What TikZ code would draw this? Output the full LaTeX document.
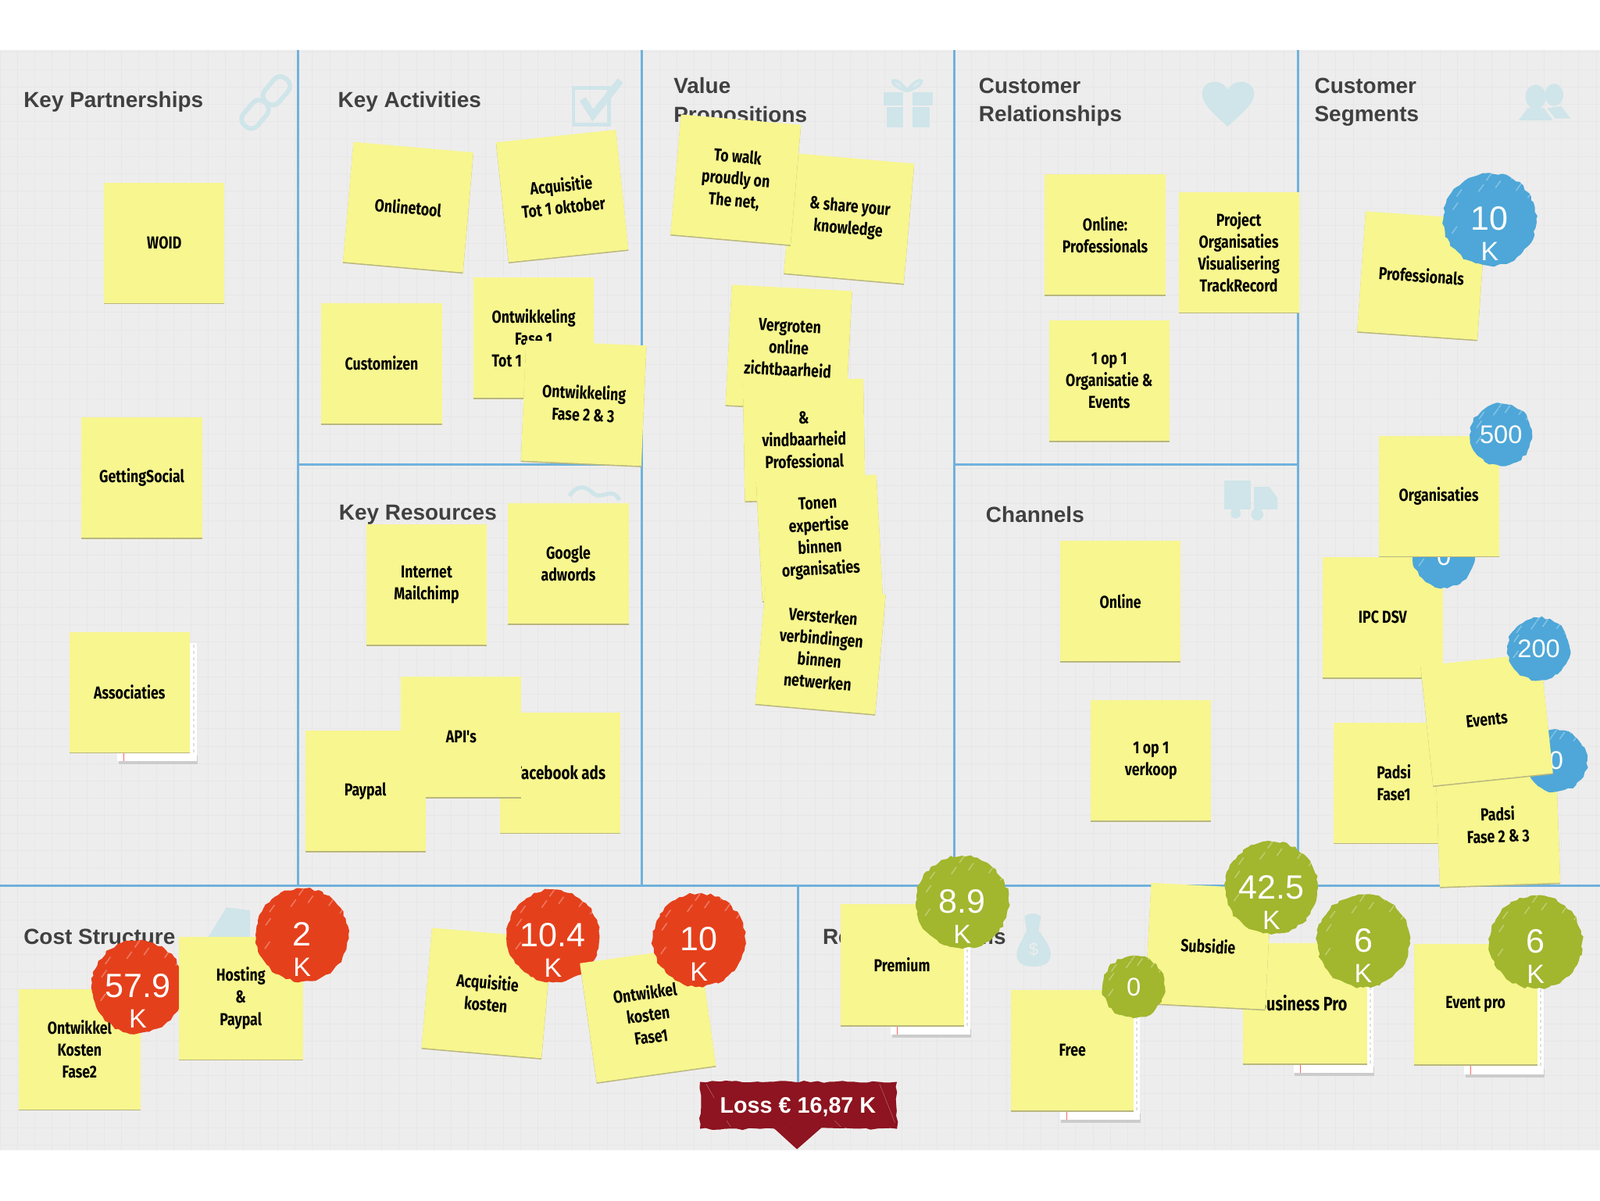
\documentclass[tikz,border=0pt]{standalone}
\usepackage{fontspec}
\usetikzlibrary{shadows,decorations.pathmorphing,calc}
\setmainfont{Liberation Sans}
\newfontfamily\notefont[FakeStretch=0.8]{Fira Sans}
\definecolor{boardbg}{HTML}{EEEDED}
\definecolor{boardgrid}{HTML}{E8E7E7}
\definecolor{boardline}{HTML}{70B2DC}
\definecolor{noteyellow}{HTML}{F7F68F}
\definecolor{noteedge}{HTML}{B9B77E}
\definecolor{iconblue}{HTML}{CFE5E9}
\definecolor{headgray}{HTML}{404040}
\definecolor{badgered}{HTML}{E5401C}
\definecolor{badgegreen}{HTML}{A2B62E}
\definecolor{badgeblue}{HTML}{4EA7D8}
\definecolor{lossred}{HTML}{8D1420}

% notepad sheet under a note: right and bottom edge of the note
\newcommand\padsheet[2]{
  \fill[gray!40] (#1-71,#2+3) rectangle (#1+7,#2+12);
  \fill[white] (#1-72,#2-107) rectangle (#1+6,#2+9);
  \draw[gray!25, line width=1.5pt, dash pattern=on 3pt off 3pt] (#1+3,#2-105) -- (#1+3,#2+2);
  \draw[red!60] (#1-66,#2) -- (#1-66,#2+9);
}
% the K under a badge number
\newcommand\kilo{\\[1pt]\fontsize{26}{26}\selectfont K}

\begin{document}
\begin{tikzpicture}[
  x=1pt, y=-1pt,
  font=\fontsize{21}{28}\selectfont,
  board/.style={boardline, line width=2.4pt},
  icon/.style={iconblue, line width=4.5pt},
  heading/.style={anchor=west, align=left, text=headgray, font=\fontsize{21.4}{28}\selectfont\bfseries, inner sep=0},
  note/.style={rectangle, minimum size=118, inner sep=0, fill=noteyellow, align=center, text=black,
    font=\notefont\bfseries\fontsize{17}{21.5}\selectfont,
    drop shadow={shadow xshift=0pt, shadow yshift=-1.2pt, fill=noteedge, opacity=1}},
  badge/.style={circle, inner sep=0, fill=#1, align=center, text=white,
    font=\fontsize{25}{28}\selectfont,
    decorate, decoration={random steps, segment length=4pt, amplitude=1.3pt},
    path picture={
      \foreach \a/\f in {30/.80,48/.62,62/.86,80/.68,95/.84,112/.60,128/.82,145/.70,165/.78,200/.80}{
        \draw[white, opacity=.3, line width=1.2pt]
          ($(path picture bounding box.center)!\f!(path picture bounding box.\a)$) -- +(5,-7);
      }
    }},
  smallbadge/.style={badge=#1, minimum size=61},
  bigbadge/.style={badge=#1, minimum size=91},
  biglabel/.style={align=center, text=white, inner sep=0, yshift=-14pt, font=\fontsize{33}{29}\selectfont}
]
  % board
  \useasboundingbox (0,0) rectangle (1568,1176);
  \fill[white] (0,0) rectangle (1568,1176);
  \fill[boardbg] (0,49) rectangle (1568,1127);
  \draw[boardgrid, step=17pt, thin] (0,49) grid (1568,1127);

  % cell borders
  \draw[board] (292,49) -- (292,868);
  \draw[board] (629,49) -- (629,868);
  \draw[board] (935,49) -- (935,868);
  \draw[board] (1272,49) -- (1272,868);
  \draw[board] (292,455) -- (629,455);
  \draw[board] (935,455) -- (1272,455);
  \draw[board] (0,868) -- (1568,868);
  \draw[board] (782,868) -- (782,1080);

  % icons
  \draw[icon, rounded corners=8pt, rotate around={50:(250,112)}] (235,103) rectangle (265,121);
  \draw[icon, rounded corners=8pt, rotate around={50:(271,89)}] (256,80) rectangle (286,98);
  \draw[icon, line width=3.5pt] (562,86) rectangle (597,122);
  \draw[icon, line width=7pt] (571,97) -- (581,113) -- (608,79);
  \fill[iconblue] (866,90) rectangle (914,103);
  \fill[iconblue] (869,105) rectangle (911,125);
  \fill[boardbg] (885,90) rectangle (894,125);
  \draw[icon, line width=3pt] (889,89) .. controls (875,70) and (866,82) .. (889,89) .. controls (912,82) and (903,70) .. (889,89);
  \fill[iconblue] (1203,124) .. controls (1190,112) and (1178,102) .. (1178,92)
    .. controls (1178,78) and (1197,76) .. (1203,88)
    .. controls (1209,76) and (1229,78) .. (1229,92)
    .. controls (1229,102) and (1216,112) .. (1203,124) -- cycle;
  \fill[iconblue] (1505,95) circle[x radius=10, y radius=12];
  \fill[iconblue] (1523,93) circle[x radius=9, y radius=11];
  \fill[iconblue] (1488,118) -- (1497,106) -- (1513,106) -- (1522,118) -- cycle;
  \fill[iconblue] (1516,106) -- (1530,104) -- (1539,116) -- (1524,116) -- cycle;
  \draw[icon, line width=4pt] (558,486) .. controls (566,474) and (574,476) .. (582,484) .. controls (590,490) and (600,476) .. (607,490);
  \fill[iconblue] (1200,471) rectangle (1226,499);
  \fill[iconblue] (1229,477) -- (1244,477) -- (1252,488) -- (1252,499) -- (1229,499) -- cycle;
  \fill[iconblue] (1232,504) circle(6);
  \fill[iconblue] (1211,503) circle(5);
  \fill[iconblue] (203,920) -- (222,889) -- (245,892) -- (245,920) -- cycle;
  \fill[iconblue] (1013,947) .. controls (994,947) and (993,935) .. (1001,922)
    -- (1006,912) -- (1004,898) .. controls (1008,894) and (1016,894) .. (1020,898)
    -- (1018,912) -- (1025,922) .. controls (1033,935) and (1032,947) .. (1013,947) -- cycle;
  \node[text=boardbg, inner sep=0, font=\fontsize{17}{17}\selectfont] (dollar) at (1013,930) {\$};

  % headings
  \node[heading] (partnerships) at (23,100) {Key Partnerships};
  \node[heading] (activities) at (331,100) {Key Activities};
  \node[heading] (propositions) at (660,100) {Value\\Propositions};
  \node[heading] (relationships) at (959,100) {Customer\\Relationships};
  \node[heading] (segments) at (1288,100) {Customer\\Segments};
  \node[heading] (resources) at (332,504) {Key Resources};
  \node[heading] (channels) at (966,504) {Channels};
  \node[heading] (cost) at (23,918) {Cost Structure};
  \node[heading] (revenue) at (806,918) {Revenue Streams};

  % key partnerships
  \node[note] (woid) at (161,238) {WOID};
  \node[note] (social) at (139,468) {GettingSocial};
  \padsheet{187}{737}
  \node[note] (associaties) at (127,678) {Associaties};

  % key activities
  \node[note, rotate=-5] (onlinetool) at (400,203) {Onlinetool};
  \node[note, rotate=6] (acquisitie) at (551,192) {Acquisitie\\Tot 1 oktober};
  \node[note] (customizen) at (374,356) {Customizen};
  \node[note] (faseone) at (523,331) {Ontwikkeling\\Fase 1\\Tot 1 oktober};
  \node[note, rotate=-2.5] (fasetwo) at (572,395) {Ontwikkeling\\Fase 2 \& 3};

  % key resources
  \node[note] (mailchimp) at (418,573) {Internet\\Mailchimp};
  \node[note] (adwords) at (557,552) {Google\\adwords};
  \node[note] (facebook) at (549,757) {\fontsize{18}{22}\selectfont Facebook ads};
  \node[note] (apis) at (452,722) {API's};
  \node[note] (paypal) at (358,775) {Paypal};

  % value propositions
  \node[note, rotate=-5] (share) at (832,214) {\& share your\\knowledge};
  \node[note, rotate=-5] (walk) at (721,176) {To walk\\proudly on\\The net,};
  \node[note, rotate=-3] (vergroten) at (773,341) {Vergroten\\online\\zichtbaarheid};
  \node[note, rotate=1] (vindbaar) at (788,431) {\&\\vindbaarheid\\Professional};
  \node[note, rotate=3] (tonen) at (803,527) {Tonen\\expertise\\binnen\\organisaties};
  \node[note, rotate=-5] (versterken) at (804,636) {Versterken\\verbindingen\\binnen\\netwerken};

  % customer relationships
  \node[note] (onlineprof) at (1083,230) {Online:\\Professionals};
  \node[note] (project) at (1214,247) {Project\\Organisaties\\Visualisering\\TrackRecord};
  \node[note] (oneorg) at (1087,373) {1 op 1\\Organisatie \&\\Events};

  % channels
  \node[note] (online) at (1098,589) {Online};
  \node[note] (verkoop) at (1128,745) {1 op 1\\verkoop};

  % customer segments
  \node[note, rotate=-4] (professionals) at (1393,270) {Professionals};
  \node[bigbadge=badgeblue, label={[biglabel, name=bten text]center:{10\kilo}}] (bten) at (1460,215) {};
  \node[note] (ipc) at (1355,605) {IPC DSV};
  \node[smallbadge=badgeblue] (bipc) at (1415,545) {0};
  \node[note] (organisaties) at (1410,486) {Organisaties};
  \node[smallbadge=badgeblue] (bfive) at (1471,426) {500};
  \node[note] (padsione) at (1366,767) {Padsi\\Fase1};
  \node[note, rotate=2] (padsitwo) at (1468,808) {Padsi\\Fase 2 \& 3};
  \node[smallbadge=badgeblue] (bpadsi) at (1525,745) {0};
  \node[note, rotate=6] (events) at (1457,705) {Events};
  \node[smallbadge=badgeblue] (btwo) at (1508,636) {200};

  % cost structure
  \node[note, minimum width=120] (kostentwo) at (78,1028) {Ontwikkel\\Kosten\\Fase2};
  \node[bigbadge=badgered, label={[biglabel, name=bkostentwo text]center:{57.9\kilo}}] (bkostentwo) at (135,967) {};
  \node[note, minimum width=122, minimum height=120] (hosting) at (236,978) {Hosting\\\&\\Paypal};
  \node[bigbadge=badgered, label={[biglabel, name=bhosting text]center:{2\kilo}}] (bhosting) at (296,916) {};
  \node[note, rotate=-5] (acqkosten) at (477,973) {Acquisitie\\kosten};
  \node[bigbadge=badgered, label={[biglabel, name=bacq text]center:{10.4\kilo}}] (bacq) at (542,917) {};
  \node[note, rotate=8] (kostenone) at (635,994) {Ontwikkel\\kosten\\Fase1};
  \node[bigbadge=badgered, label={[biglabel, name=bkostenone text]center:{10\kilo}}] (bkostenone) at (685,921) {};

  % revenue streams
  \padsheet{945}{1005}
  \node[note, minimum width=121, minimum height=119] (premium) at (884,945) {Premium};
  \node[bigbadge=badgegreen, label={[biglabel, name=bpremium text]center:{8.9\kilo}}] (bpremium) at (943,884) {};
  \padsheet{1340}{1042}
  \node[note, minimum width=122] (business) at (1279,983) {\fontsize{19}{22}\selectfont\hspace*{-6pt}Business Pro};
  \node[note, rotate=-3] (subsidie) at (1184,927) {Subsidie};
  \padsheet{1111}{1088}
  \node[note, minimum width=120] (free) at (1051,1029) {Free};
  \node[smallbadge=badgegreen] (bfree) at (1111,967) {0};
  \node[bigbadge=badgegreen, label={[biglabel, name=bsubsidie text]center:{42.5\kilo}}] (bsubsidie) at (1246,870) {};
  \node[bigbadge=badgegreen, label={[biglabel, name=bbusiness text]center:{6\kilo}}] (bbusiness) at (1336,922) {};
  \padsheet{1507}{1044}
  \node[note, minimum width=121] (eventpro) at (1446,984) {Event pro};
  \node[bigbadge=badgegreen, label={[biglabel, name=beventpro text]center:{6\kilo}}] (beventpro) at (1505,923) {};

  % loss flag
  \fill[lossred, decorate, decoration={random steps, segment length=6pt, amplitude=1.2pt}]
    (686,1060) rectangle (879,1106);
  \fill[lossred] (758,1105) -- (805,1105) -- (781,1126) -- cycle;
  \draw[white, opacity=.35, thin] (692,1062) -- (700,1076);
  \draw[white, opacity=.35, thin] (862,1062) -- (877,1100);
  \draw[white, opacity=.35, thin] (712,1098) -- (716,1104);
  \draw[white, opacity=.35, thin] (818,1098) -- (824,1104);
  \node[text=white, inner sep=0, font=\fontsize{22}{24}\selectfont\bfseries] (loss) at (782,1085) {Loss € 16,87 K};
\end{tikzpicture}
\end{document}
